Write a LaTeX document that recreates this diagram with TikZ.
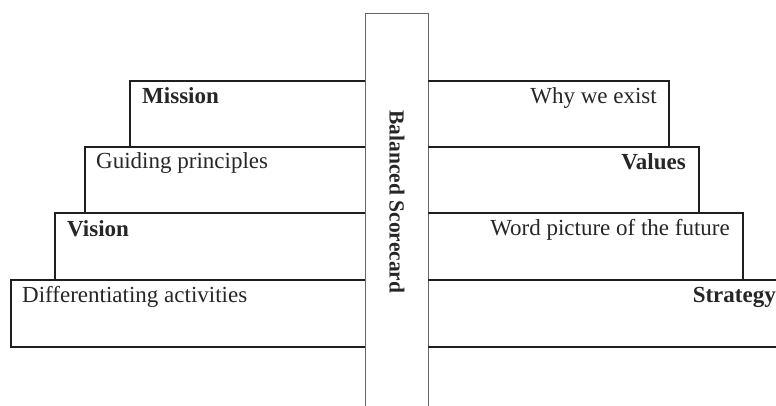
\documentclass[tikz,border=0pt]{standalone}
\usepackage{fontspec}
\setmainfont{Liberation Serif}
\tikzset{
  boxline/.style={line width=1.6pt, draw=black!88},
  barline/.style={line width=0.9pt, draw=black!60},
  lbl/.style={inner sep=0pt, font=\fontsize{23}{26}\selectfont, text=black!85},
  blbl/.style={lbl, font=\fontsize{23}{26}\selectfont\bfseries},
}
\begin{document}
\begin{tikzpicture}[x=1pt,y=-1pt]
\useasboundingbox (0,0) rectangle (776,405);
\clip (0,0) rectangle (776,405);
% central bar
\draw[barline] (365,410) -- (365,13) -- (428,13) -- (428,410);
% left steps
\draw[boxline] (365,81) -- (130,81) -- (130,147) -- (365,147);
\draw[boxline] (365,147) -- (85,147) -- (85,213) -- (365,213);
\draw[boxline] (365,213) -- (55,213) -- (55,280) -- (365,280);
\draw[boxline] (365,280) -- (11,280) -- (11,347) -- (365,347);
% right steps
\draw[boxline] (428,81) -- (669,81) -- (669,147) -- (428,147);
\draw[boxline] (428,147) -- (699,147) -- (699,213) -- (428,213);
\draw[boxline] (428,213) -- (743,213) -- (743,280) -- (428,280);
\draw[boxline] (428,280) -- (790,280);
\draw[boxline] (428,347) -- (790,347);
% labels
\node[blbl, anchor=base west] (mission) at (142,103) {Mission};
\node[lbl, anchor=base west] (guiding) at (96,168) {Guiding principles};
\node[blbl, anchor=base west] (vision) at (67,236) {Vision};
\node[lbl, anchor=base west] (diff) at (22,302) {Differentiating activities};
\node[lbl, anchor=base east] (why) at (657,103) {Why we exist};
\node[blbl, anchor=base east] (values) at (686,169) {Values};
\node[lbl, anchor=base east] (word) at (730,235) {Word picture of the future};
\node[blbl, anchor=base east] (strategy) at (776,302) {Strategy};
\node[blbl, rotate=-90, font=\fontsize{21.5}{24}\selectfont\bfseries] (bsc) at (397,202) {Balanced Scorecard};
\end{tikzpicture}
\end{document}
